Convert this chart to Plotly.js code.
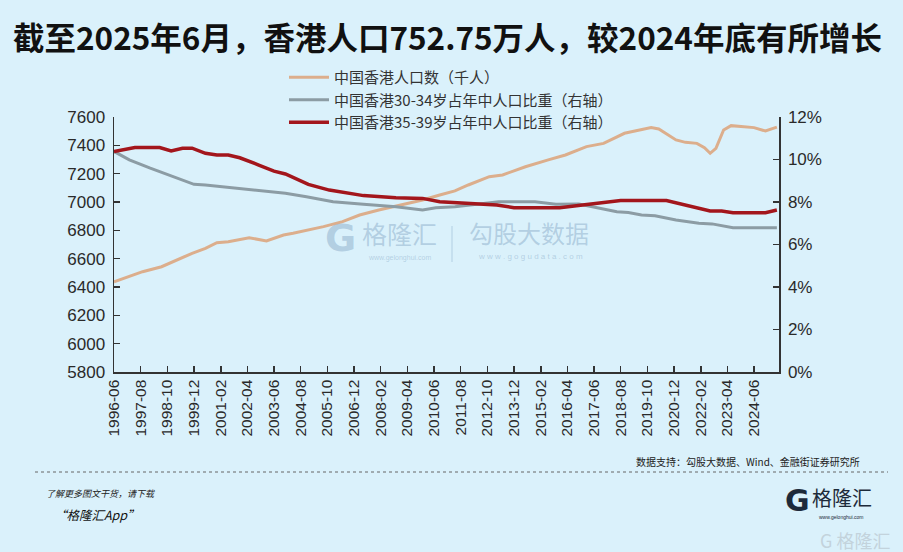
<!DOCTYPE html>
<html>
<head>
<meta charset="utf-8">
<script src="https://cdn.plot.ly/plotly-3.0.1.min.js"></script>
<style>
html,body{margin:0;padding:0;background:#daf1fb;}
#chart{width:903px;height:552px;}
</style>
</head>
<body>
<div id="chart"></div>
<script>
// ---- data ----
const popDates = ['1996-06','1997-09','1998-07','1999-03','1999-11','2000-06','2000-12','2001-06','2002-05','2003-02','2003-11','2004-04','2005-08','2006-06','2007-03','2008-01','2009-01','2009-12','2010-09','2011-05','2011-12','2012-11','2013-06','2014-06','2015-06','2016-03','2017-02','2017-11','2018-10','2019-02','2019-12','2020-04','2021-01','2021-06','2021-12','2022-04','2022-07','2022-10','2023-02','2023-06','2024-01','2024-06','2024-12','2025-06'];
const popValues = [6436,6508,6543,6591,6638,6673,6713,6720,6748,6725,6767,6779,6826,6861,6908,6944,6979,7014,7049,7078,7120,7179,7191,7249,7297,7332,7391,7414,7485,7497,7525,7515,7438,7421,7414,7383,7344,7379,7508,7539,7532,7525,7501,7528];

const age3034Dates = ['1996-06','1997-02','1998-01','1999-01','1999-12','2000-06','2001-03','2002-02','2002-12','2003-12','2004-11','2006-01','2007-05','2008-10','2009-12','2010-07','2011-05','2012-04','2013-04','2014-11','2015-10','2016-10','2017-07','2018-06','2018-12','2019-07','2020-02','2021-01','2022-01','2022-08','2023-07','2025-06'];
const age3034Values = [10.38,9.98,9.59,9.19,8.83,8.80,8.72,8.61,8.52,8.41,8.25,8.01,7.89,7.78,7.62,7.73,7.78,7.89,8.01,8.01,7.89,7.91,7.73,7.54,7.51,7.39,7.35,7.15,7.00,6.97,6.79,6.79];

const age3539Dates = ['1996-06','1997-05','1998-06','1998-12','1999-06','1999-11','2000-06','2000-12','2001-06','2001-12','2002-10','2003-06','2003-12','2004-12','2005-11','2007-05','2008-10','2009-12','2010-09','2011-05','2012-04','2013-03','2013-12','2015-12','2016-12','2017-11','2018-08','2020-08','2021-06','2022-01','2022-07','2023-01','2023-07','2024-12','2025-06'];
const age3539Values = [10.38,10.56,10.56,10.40,10.53,10.53,10.29,10.21,10.21,10.08,9.74,9.45,9.32,8.83,8.56,8.30,8.20,8.17,8.01,7.98,7.94,7.86,7.73,7.73,7.86,7.98,8.07,8.07,7.86,7.73,7.58,7.58,7.50,7.50,7.62];

const xTickLabels = ['1996-06','1997-08','1998-10','1999-12','2001-02','2002-04','2003-06','2004-08','2005-10','2006-12','2008-02','2009-04','2010-06','2011-08','2012-10','2013-12','2015-02','2016-04','2017-06','2018-08','2019-10','2020-12','2022-02','2023-04','2024-06'];

const seriesNames = ['中国香港人口数（千人）','中国香港30-34岁占年中人口比重（右轴）','中国香港35-39岁占年中人口比重（右轴）'];
const titleText = '截至2025年6月，香港人口752.75万人，较2024年底有所增长';
const sourceText = '数据支持：勾股大数据、Wind、金融街证券研究所';

// ---- helpers ----
const d = s => s + '-01';
const L = 114, R = 779, T = 117, B = 372;
const px = x => (x - L) / (R - L);
const py = y => (B - y) / (B - T);
const axisFont = {family:'Liberation Sans, Arial, sans-serif', size:17, color:'#2a2a2a'};
const cjk = 'Noto Sans CJK SC, sans-serif';

const traces = [
  {x: popDates.map(d), y: popValues, name: seriesNames[0], type:'scatter', mode:'lines',
   line:{color:'#dcae8c', width:3}, yaxis:'y'},
  {x: age3034Dates.map(d), y: age3034Values, name: seriesNames[1], type:'scatter', mode:'lines',
   line:{color:'#8c9ca4', width:3}, yaxis:'y2'},
  {x: age3539Dates.map(d), y: age3539Values, name: seriesNames[2], type:'scatter', mode:'lines',
   line:{color:'#a3161c', width:3.5}, yaxis:'y2'}
];

const wm = 'rgba(130,165,195,0.45)';
const annotations = [
  {text:titleText, xref:'paper', yref:'paper', x:px(11), y:py(36), xanchor:'left', yanchor:'middle',
   showarrow:false, font:{family:cjk, size:31.5, color:'#111', weight:700}},
  {text:sourceText, xref:'paper', yref:'paper', x:px(862), y:py(461), xanchor:'right', yanchor:'middle',
   showarrow:false, font:{family:cjk, size:10, color:'#222'}},
  {text:'<i>了解更多图文干货，请下载</i>', xref:'paper', yref:'paper', x:px(44), y:py(493), xanchor:'left', yanchor:'middle',
   showarrow:false, font:{family:cjk, size:9, color:'#222'}},
  {text:'<i>“格隆汇App”</i>', xref:'paper', yref:'paper', x:px(52), y:py(514), xanchor:'left', yanchor:'middle',
   showarrow:false, font:{family:cjk, size:12.5, color:'#111'}},
  // logo bottom right
  {text:'<b>G</b>', xref:'paper', yref:'paper', x:px(797), y:py(500), xanchor:'center', yanchor:'middle',
   showarrow:false, font:{family:'DejaVu Sans, sans-serif', size:30, color:'#1d2a3a'}},
  {text:'格隆汇', xref:'paper', yref:'paper', x:px(810), y:py(497), xanchor:'left', yanchor:'middle',
   showarrow:false, font:{family:cjk, size:20, color:'#1d2a3a'}},
  {text:'www.gelonghui.com', xref:'paper', yref:'paper', x:px(841), y:py(517), xanchor:'center', yanchor:'middle',
   showarrow:false, font:{family:'Liberation Sans, sans-serif', size:5, color:'#1d2a3a'}},
  {text:'G 格隆汇', xref:'paper', yref:'paper', x:px(892), y:py(540), xanchor:'right', yanchor:'middle',
   showarrow:false, font:{family:cjk, size:18, color:'#c3d3dc'}},
  // watermarks
  {text:'<b>G</b>', xref:'paper', yref:'paper', x:px(340), y:py(238), xanchor:'center', yanchor:'middle',
   showarrow:false, font:{family:'DejaVu Sans, sans-serif', size:38, color:wm}},
  {text:'格隆汇', xref:'paper', yref:'paper', x:px(399), y:py(233), xanchor:'center', yanchor:'middle',
   showarrow:false, font:{family:cjk, size:25, color:wm}},
  {text:'www.gelonghui.com', xref:'paper', yref:'paper', x:px(399), y:py(258), xanchor:'center', yanchor:'middle',
   showarrow:false, font:{family:'Liberation Sans, sans-serif', size:7, color:wm}},
  {text:'勾股大数据', xref:'paper', yref:'paper', x:px(529), y:py(232), xanchor:'center', yanchor:'middle',
   showarrow:false, font:{family:cjk, size:24, color:wm}},
  {text:'w w w . g o g u d a t a . c o m', xref:'paper', yref:'paper', x:px(530), y:py(256), xanchor:'center', yanchor:'middle',
   showarrow:false, font:{family:'Liberation Sans, sans-serif', size:8, color:wm}}
];

const shapes = [
  {type:'line', xref:'paper', yref:'paper', x0:px(35), x1:px(888), y0:py(472), y1:py(472),
   line:{color:'#666', width:1, dash:'dot'}},
  {type:'line', xref:'paper', yref:'paper', x0:px(452), x1:px(452), y0:py(226), y1:py(262),
   line:{color:wm, width:1}}
];

const layout = {
  width:903, height:552,
  margin:{l:L, r:903-R, t:T, b:552-B, pad:0},
  paper_bgcolor:'#daf1fb', plot_bgcolor:'#daf1fb',
  showlegend:true,
  legend:{x:px(284), y:py(61), xanchor:'left', yanchor:'top', bgcolor:'rgba(0,0,0,0)',
          font:{family:cjk, size:15, color:'#333'}, tracegroupgap:0, itemwidth:40},
  xaxis:{type:'date', range:[d('1996-06'), '2025-07-05'], tickmode:'array',
         tickvals:xTickLabels.map(d), ticktext:xTickLabels, tickangle:-90,
         ticks:'inside', ticklen:6, tickcolor:'#333', tickwidth:1.5,
         showline:true, linecolor:'#333', linewidth:1.5, showgrid:false, zeroline:false,
         tickfont:{family:'Liberation Sans, Arial, sans-serif', size:15.5, color:'#2a2a2a'}},
  yaxis:{range:[5800,7600], dtick:200, tick0:5800, ticks:'inside', ticklen:6, tickcolor:'#333', tickwidth:1.5,
         showline:true, linecolor:'#333', linewidth:1.5, showgrid:false, zeroline:false,
         tickfont:axisFont, ticklabelstandoff:4},
  yaxis2:{range:[0,12], dtick:2, tick0:0, ticksuffix:'%', overlaying:'y', side:'right',
          ticks:'inside', ticklen:6, tickcolor:'#333', tickwidth:1.5,
          showline:true, linecolor:'#333', linewidth:1.5, showgrid:false, zeroline:false,
          tickfont:axisFont, ticklabelstandoff:4},
  annotations:annotations,
  shapes:shapes
};

Plotly.newPlot('chart', traces, layout, {displayModeBar:false, staticPlot:true});
</script>
</body>
</html>
